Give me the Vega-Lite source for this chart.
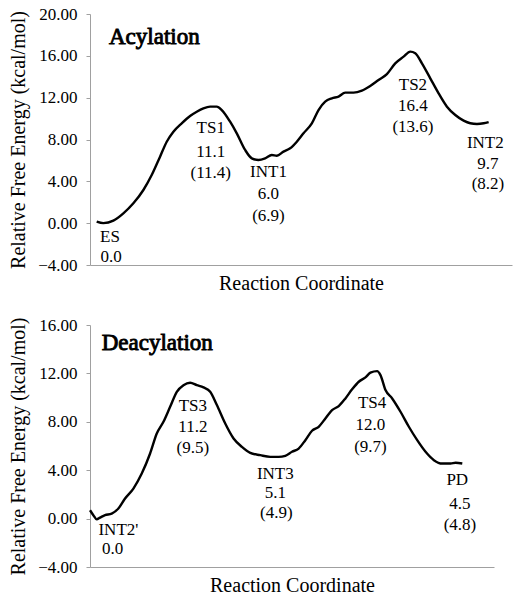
{
  "$schema": "https://vega.github.io/schema/vega-lite/v6.json",
  "padding": {"left": 8, "top": 5, "right": 2, "bottom": 0},
  "background": "white",
  "spacing": 23,
  "config": {
    "view": {"stroke": null},
    "axis": {"grid": false, "domainColor": "#a0a0a0", "tickColor": "#a0a0a0", "labelColor": "#000", "titleColor": "#000", "titleFontWeight": "normal", "labelFontSize": 17, "titleFontSize": 20}
  },
  "datasets": {
    "acyl": [
      {"x": 290, "y": 0.14}, {"x": 310, "y": 0.0}, {"x": 340, "y": 0.24}, {"x": 370, "y": 0.94},
      {"x": 400, "y": 1.9}, {"x": 430, "y": 3.17}, {"x": 455, "y": 4.6}, {"x": 480, "y": 6.36},
      {"x": 500, "y": 7.79}, {"x": 520, "y": 8.75}, {"x": 545, "y": 9.55}, {"x": 570, "y": 10.25},
      {"x": 590, "y": 10.66}, {"x": 610, "y": 10.98}, {"x": 630, "y": 11.14}, {"x": 650, "y": 11.14},
      {"x": 665, "y": 10.82}, {"x": 690, "y": 9.7}, {"x": 710, "y": 8.59}, {"x": 735, "y": 7.0},
      {"x": 755, "y": 6.2}, {"x": 775, "y": 6.04}, {"x": 795, "y": 6.2}, {"x": 815, "y": 6.52},
      {"x": 830, "y": 6.45}, {"x": 850, "y": 6.84}, {"x": 870, "y": 7.16}, {"x": 890, "y": 7.79},
      {"x": 910, "y": 8.59}, {"x": 935, "y": 9.55}, {"x": 955, "y": 10.82}, {"x": 975, "y": 11.62},
      {"x": 995, "y": 11.94}, {"x": 1015, "y": 12.1}, {"x": 1035, "y": 12.48}, {"x": 1060, "y": 12.48},
      {"x": 1085, "y": 12.67}, {"x": 1110, "y": 13.12}, {"x": 1135, "y": 13.69}, {"x": 1160, "y": 14.26},
      {"x": 1185, "y": 15.28}, {"x": 1210, "y": 15.92}, {"x": 1230, "y": 16.4}, {"x": 1245, "y": 16.24},
      {"x": 1265, "y": 15.28}, {"x": 1290, "y": 13.85}, {"x": 1315, "y": 12.41}, {"x": 1340, "y": 11.14},
      {"x": 1365, "y": 10.34}, {"x": 1390, "y": 9.8}, {"x": 1410, "y": 9.55}, {"x": 1430, "y": 9.48},
      {"x": 1450, "y": 9.55}, {"x": 1465, "y": 9.67}
    ],
    "acylLabels": [
      {"x": 330, "y": -1.29, "t": "ES"}, {"x": 333, "y": -3.2, "t": "0.0"},
      {"x": 632, "y": 9.07, "t": "TS1"}, {"x": 632, "y": 6.84, "t": "11.1"}, {"x": 632, "y": 4.83, "t": "(11.4)"},
      {"x": 805, "y": 4.92, "t": "INT1"}, {"x": 805, "y": 2.79, "t": "6.0"}, {"x": 805, "y": 0.68, "t": "(6.9)"},
      {"x": 1238, "y": 13.21, "t": "TS2"}, {"x": 1238, "y": 11.2, "t": "16.4"}, {"x": 1238, "y": 9.23, "t": "(13.6)"},
      {"x": 1455, "y": 7.63, "t": "INT2"}, {"x": 1463, "y": 5.66, "t": "9.7"}, {"x": 1463, "y": 3.71, "t": "(8.2)"}
    ],
    "deacyl": [
      {"x": 270, "y": 0.69}, {"x": 280, "y": 0.28}, {"x": 290, "y": -0.06}, {"x": 300, "y": 0.08},
      {"x": 315, "y": 0.28}, {"x": 335, "y": 0.41}, {"x": 355, "y": 0.83}, {"x": 375, "y": 1.66},
      {"x": 400, "y": 2.48}, {"x": 425, "y": 3.72}, {"x": 450, "y": 5.38}, {"x": 470, "y": 7.03},
      {"x": 490, "y": 8.0}, {"x": 510, "y": 9.24}, {"x": 530, "y": 10.48}, {"x": 550, "y": 11.03},
      {"x": 570, "y": 11.23}, {"x": 590, "y": 11.03}, {"x": 610, "y": 10.84}, {"x": 630, "y": 10.48},
      {"x": 650, "y": 9.38}, {"x": 675, "y": 7.86}, {"x": 700, "y": 6.62}, {"x": 725, "y": 5.93},
      {"x": 750, "y": 5.43}, {"x": 780, "y": 5.24}, {"x": 810, "y": 5.1}, {"x": 835, "y": 5.1},
      {"x": 855, "y": 5.19}, {"x": 875, "y": 5.52}, {"x": 895, "y": 5.79}, {"x": 915, "y": 6.48},
      {"x": 935, "y": 7.26}, {"x": 955, "y": 7.59}, {"x": 975, "y": 8.28}, {"x": 995, "y": 8.97},
      {"x": 1015, "y": 9.3}, {"x": 1035, "y": 9.93}, {"x": 1055, "y": 10.68}, {"x": 1075, "y": 11.31},
      {"x": 1095, "y": 11.67}, {"x": 1110, "y": 12.06}, {"x": 1130, "y": 12.19}, {"x": 1140, "y": 11.86},
      {"x": 1155, "y": 10.62}, {"x": 1175, "y": 9.93}, {"x": 1200, "y": 8.83}, {"x": 1225, "y": 7.59},
      {"x": 1250, "y": 6.48}, {"x": 1275, "y": 5.52}, {"x": 1300, "y": 4.83}, {"x": 1325, "y": 4.55},
      {"x": 1350, "y": 4.55}, {"x": 1365, "y": 4.61}, {"x": 1385, "y": 4.55}
    ],
    "deacylLabels": [
      {"x": 355, "y": -0.97, "t": "INT2'"}, {"x": 338, "y": -2.48, "t": "0.0"},
      {"x": 578, "y": 9.3, "t": "TS3"}, {"x": 578, "y": 7.59, "t": "11.2"}, {"x": 578, "y": 5.85, "t": "(9.5)"},
      {"x": 825, "y": 3.67, "t": "INT3"}, {"x": 825, "y": 2.12, "t": "5.1"}, {"x": 828, "y": 0.5, "t": "(4.9)"},
      {"x": 1115, "y": 9.52, "t": "TS4"}, {"x": 1110, "y": 7.72, "t": "12.0"}, {"x": 1110, "y": 5.93, "t": "(9.7)"},
      {"x": 1370, "y": 3.17, "t": "PD"}, {"x": 1378, "y": 1.24, "t": "4.5"}, {"x": 1378, "y": -0.55, "t": "(4.8)"}
    ],
    "acylTitle": [{"x": 327, "y": 17.83, "t": "Acylation"}],
    "deacylTitle": [{"x": 305, "y": 14.48, "t": "Deacylation"}]
  },
  "vconcat": [
    {
      "width": 422,
      "height": 251,
      "encoding": {
        "x": {"field": "x", "type": "quantitative", "scale": {"domain": [270, 1535], "nice": false, "zero": false},
              "axis": {"title": "Reaction Coordinate", "titleFont": "Liberation Serif", "labels": false, "ticks": false, "titlePadding": 8}},
        "y": {"field": "y", "type": "quantitative", "scale": {"domain": [-4, 20], "nice": false, "zero": false},
              "axis": {"title": "Relative Free Energy (kcal/mol)", "titleFont": "Liberation Serif", "labelFont": "Liberation Serif", "values": [-4, 0, 4, 8, 12, 16, 20], "format": ".2f", "tickSize": 4, "labelPadding": 9, "titlePadding": 9}}
      },
      "layer": [
        {"data": {"name": "acyl"}, "mark": {"type": "line", "color": "#000", "strokeWidth": 2.4, "interpolate": "monotone"}},
        {"data": {"name": "acylLabels"}, "mark": {"type": "text", "font": "Liberation Serif", "fontSize": 17, "color": "#000", "align": "center", "baseline": "middle"}, "encoding": {"text": {"field": "t"}}},
        {"data": {"name": "acylTitle"}, "mark": {"type": "text", "font": "Liberation Serif", "fontSize": 23, "color": "#000", "stroke": "#000", "strokeWidth": 0.9, "align": "left", "baseline": "middle"}, "encoding": {"text": {"field": "t"}}}
      ]
    },
    {
      "width": 404,
      "height": 242,
      "encoding": {
        "x": {"field": "x", "type": "quantitative", "scale": {"domain": [270, 1480], "nice": false, "zero": false},
              "axis": {"title": "Reaction Coordinate", "titleFont": "Liberation Serif", "labels": false, "ticks": false, "titlePadding": 8}},
        "y": {"field": "y", "type": "quantitative", "scale": {"domain": [-4, 16], "nice": false, "zero": false},
              "axis": {"title": "Relative Free Energy (kcal/mol)", "titleFont": "Liberation Serif", "labelFont": "Liberation Serif", "values": [-4, 0, 4, 8, 12, 16], "format": ".2f", "tickSize": 4, "labelPadding": 9, "titlePadding": 9}}
      },
      "layer": [
        {"data": {"name": "deacyl"}, "mark": {"type": "line", "color": "#000", "strokeWidth": 2.4, "interpolate": "monotone"}},
        {"data": {"name": "deacylLabels"}, "mark": {"type": "text", "font": "Liberation Serif", "fontSize": 17, "color": "#000", "align": "center", "baseline": "middle"}, "encoding": {"text": {"field": "t"}}},
        {"data": {"name": "deacylTitle"}, "mark": {"type": "text", "font": "Liberation Serif", "fontSize": 23, "color": "#000", "stroke": "#000", "strokeWidth": 0.9, "align": "left", "baseline": "middle"}, "encoding": {"text": {"field": "t"}}}
      ]
    }
  ]
}
